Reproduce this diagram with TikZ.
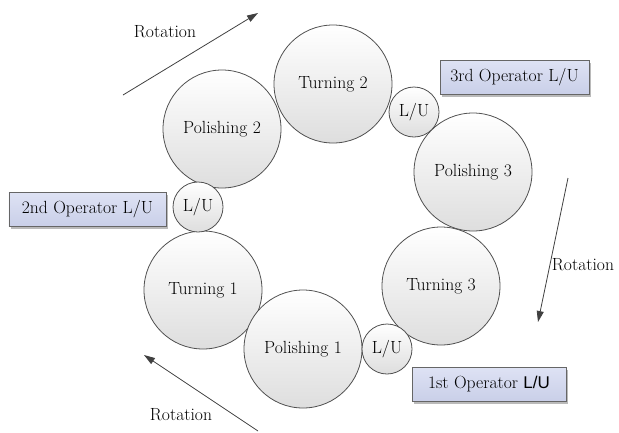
\documentclass[tikz,border=0pt]{standalone}
\usepackage{fontspec}
\newfontfamily\arialfont{Liberation Sans}
\usetikzlibrary{arrows.meta,shadows}
\definecolor{rimgray}{HTML}{505050}
\definecolor{boxtop}{HTML}{DEE2F4}
\definecolor{boxbot}{HTML}{C9CFE8}
\begin{document}
\begin{tikzpicture}[x=1bp,y=-1bp,
  every node/.style={font=\rmfamily\fontsize{17.6bp}{21bp}\selectfont, text=black},
  station/.style={circle, draw=rimgray, line width=0.8bp, minimum size=118bp, inner sep=0pt,
    top color=white, bottom color=black!13},
  lustation/.style={circle, draw=rimgray, line width=0.8bp, minimum size=50bp, inner sep=0pt,
    top color=white, bottom color=black!13},
  opbox/.style={rectangle, draw=black!60, line width=0.9bp, top color=boxtop, bottom color=boxbot,
    inner sep=0pt, minimum height=34bp,
    drop shadow={shadow xshift=2bp, shadow yshift=-2bp, fill=black!45, opacity=0.6}},
  rotarrow/.style={draw=black!75, line width=0.8bp, -{Triangle[length=11bp,width=7bp]}}]
\useasboundingbox (0,0) rectangle (619,432);

% machining stations on the rotary table
\node[station] (t2) at (333,84) {Turning 2};
\node[station] (p2) at (222,129) {Polishing 2};
\node[station] (t1) at (203,290) {Turning 1};
\node[station] (p1) at (303,349) {Polishing 1};
\node[station] (t3) at (441,286) {Turning 3};
\node[station] (p3) at (473,172) {Polishing 3};

% load/unload stations
\node[lustation] (lu2) at (198,207) {L/U};
\node[lustation] (lu1) at (387,349) {L/U};
\node[lustation] (lu3) at (414,112) {L/U};

% operator labels
\node[opbox, minimum width=157bp] (op2) at (87.5,209.5) {2nd Operator L/U};
\node[opbox, minimum width=149bp] (op3) at (514.5,77.5) {3rd Operator L/U};
\node[opbox, minimum width=154bp] (op1) at (489,384.5) {1st Operator {\arialfont\fontsize{17bp}{21bp}\selectfont L/U}};

% rotation direction
\coordinate (ra1) at (123,95);
\coordinate (ra2) at (258,13);
\coordinate (rb1) at (568,178);
\coordinate (rb2) at (538,322);
\coordinate (rc1) at (258,431);
\coordinate (rc2) at (144,355);
\draw[rotarrow] (ra1) -- (ra2);
\draw[rotarrow] (rb1) -- (rb2);
\draw[rotarrow] (rc1) -- (rc2);

\node (rl1) at (165,32) {Rotation};
\node (rl2) at (583,265) {Rotation};
\node (rl3) at (181,415) {Rotation};
\end{tikzpicture}
\end{document}
